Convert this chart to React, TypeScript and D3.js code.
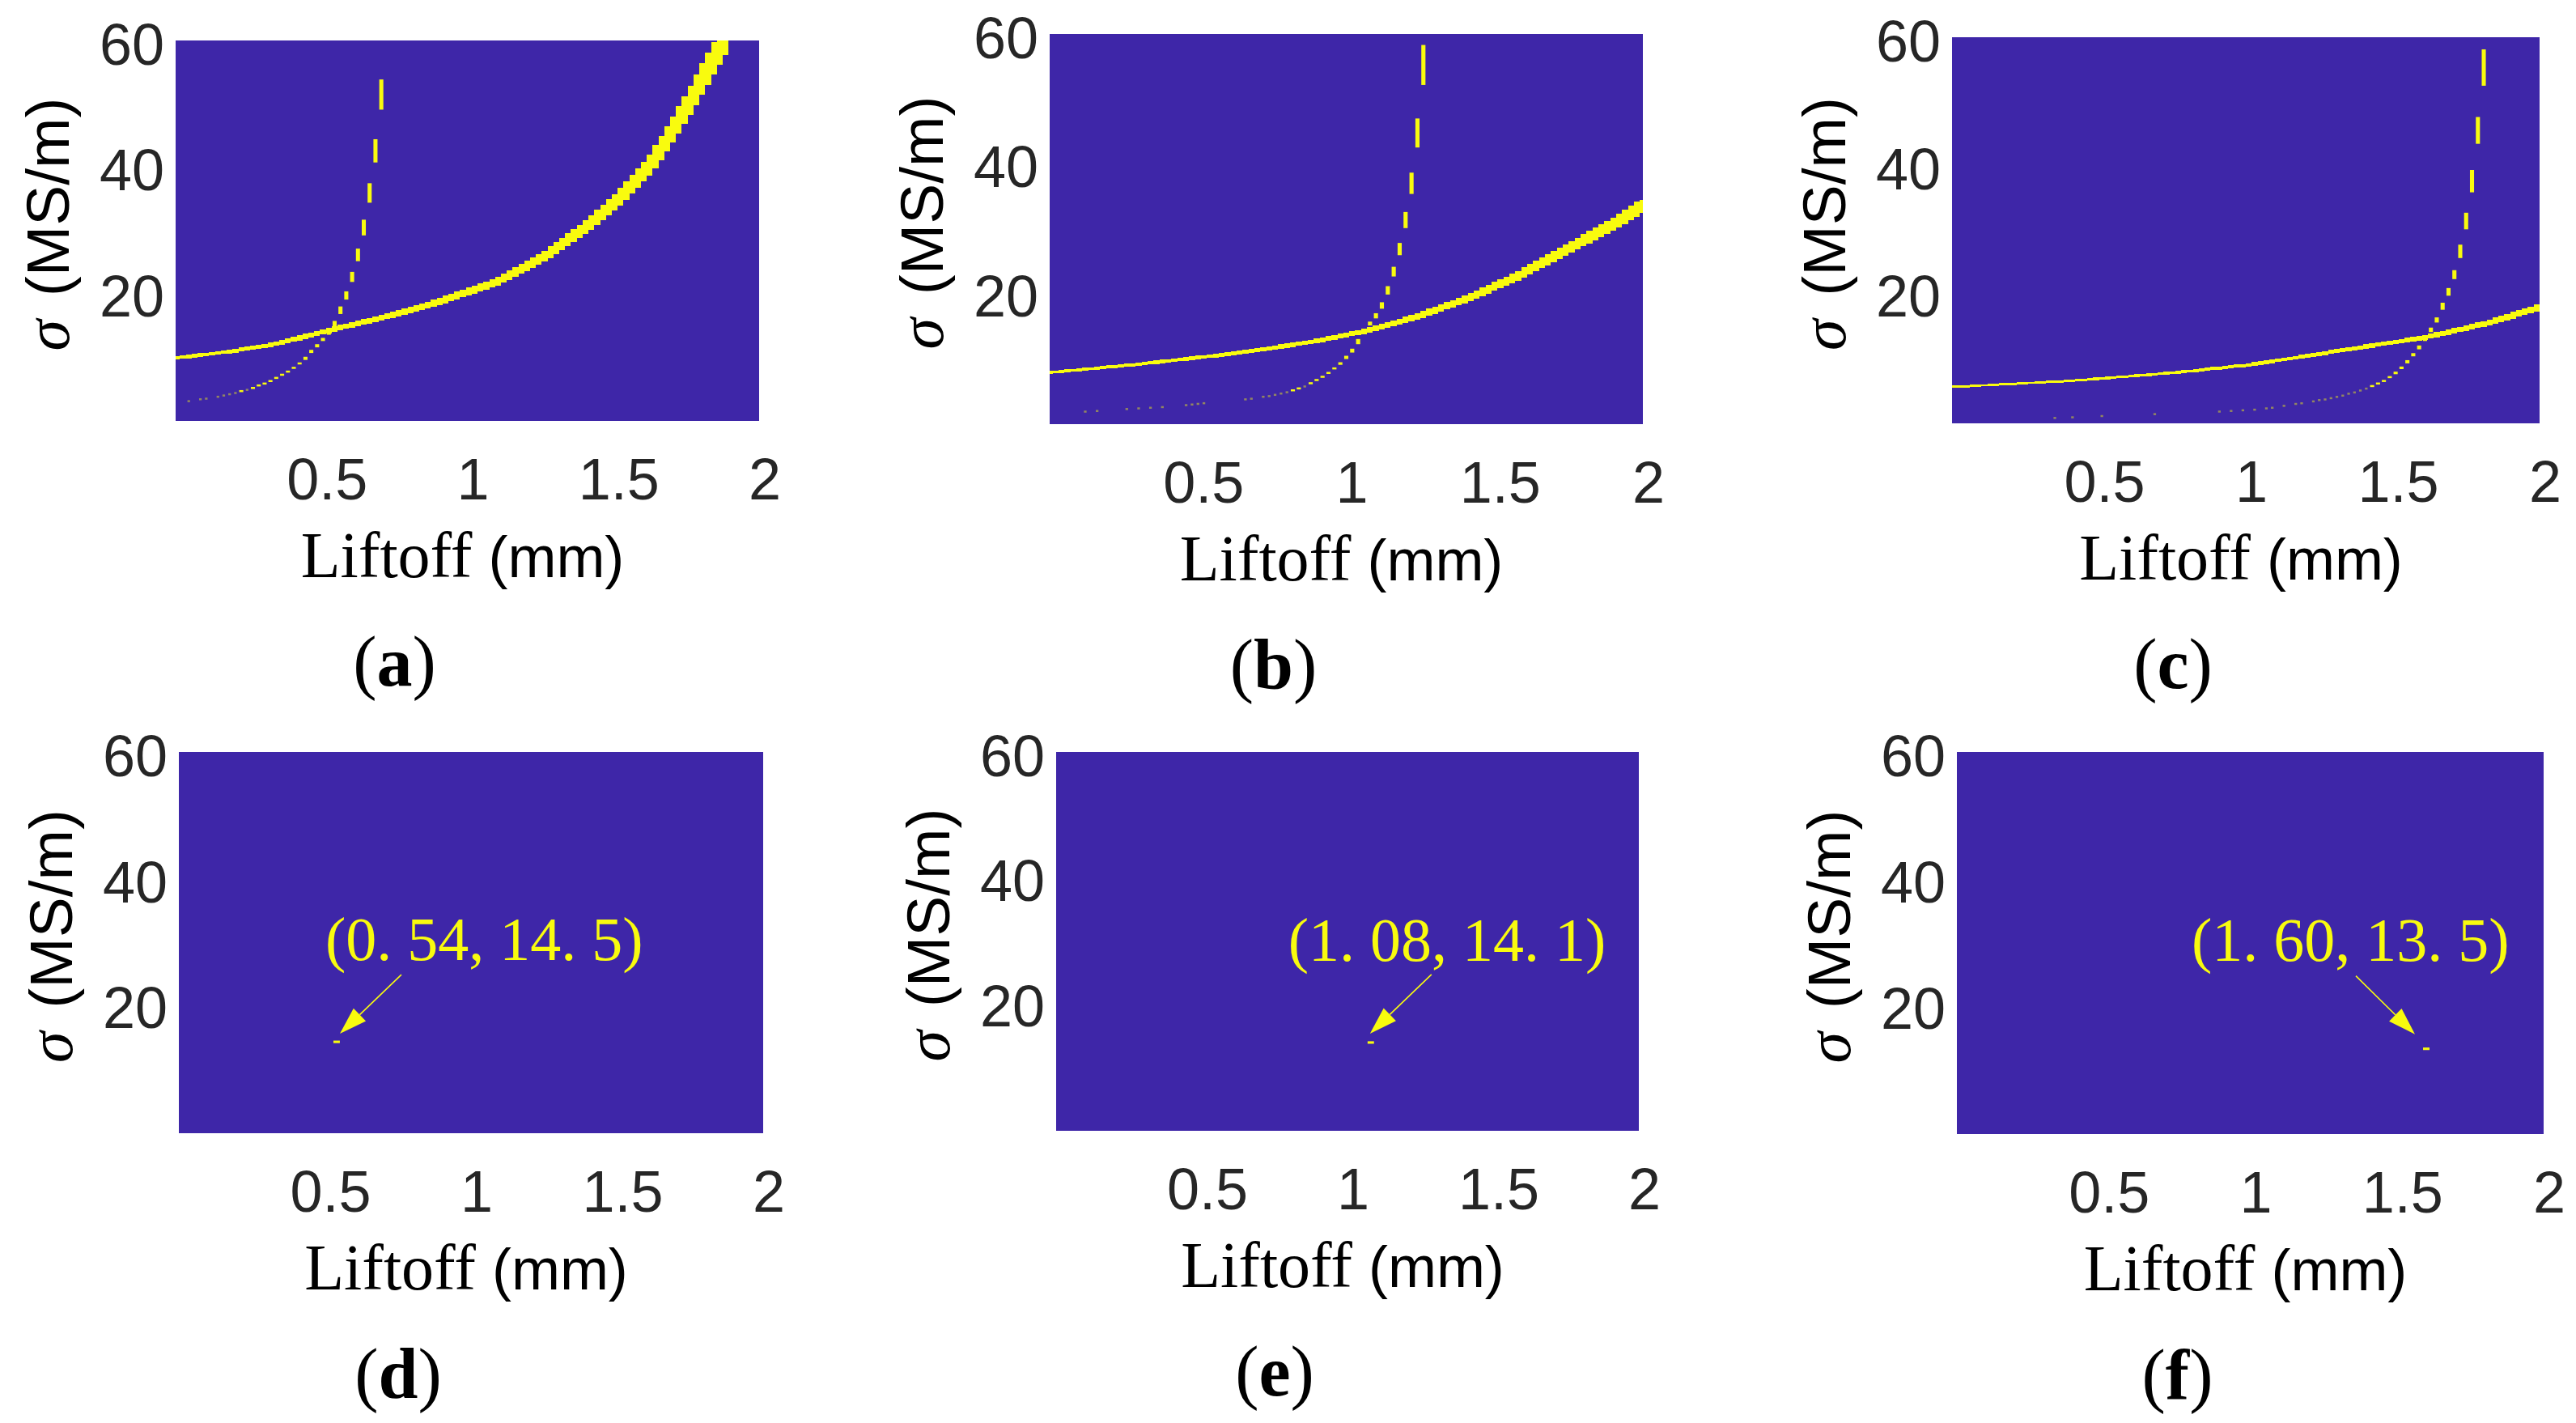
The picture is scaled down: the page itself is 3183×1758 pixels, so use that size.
import React from 'react';
import * as d3 from 'd3';

type Pt = [number, number];

// liftoff (mm), sigma (MS/m) read along each curve of the top row
const solidA: Pt[] = [[0, 10.0], [0.18, 11.0], [0.35, 12.3], [0.535, 14.5], [0.69, 16.2], [0.9, 18.9], [1.1, 22.1], [1.27, 26.3], [1.42, 31.3], [1.52, 35.4], [1.63, 40.9], [1.7, 45.9], [1.77, 51.4], [1.84, 57.3], [1.88, 60.5]];
const dashA: Pt[] = [[0.035, 3.2], [0.14, 3.9], [0.21, 4.6], [0.265, 5.3], [0.32, 6.3], [0.354, 7.1], [0.39, 8.0], [0.416, 8.8], [0.442, 9.8], [0.462, 10.9], [0.487, 12.0], [0.51, 13.2], [0.535, 14.5], [0.55, 15.9], [0.565, 17.6], [0.585, 19.9], [0.605, 22.8], [0.625, 26.3], [0.645, 30.6], [0.665, 36.1], [0.687, 43.4], [0.708, 53.3], [0.712, 55.2]];

const solidB: Pt[] = [[0, 8.0], [0.28, 9.2], [0.63, 11.0], [0.89, 12.8], [1.06, 14.4], [1.235, 16.6], [1.41, 19.5], [1.58, 23.0], [1.76, 27.5], [1.9, 31.0], [2.0, 33.9]];
const dashB: Pt[] = [[0.052, 1.9], [0.139, 2.1], [0.278, 2.5], [0.4, 2.8], [0.557, 3.5], [0.626, 3.7], [0.73, 4.4], [0.8, 5.0], [0.87, 6.1], [0.904, 7.0], [0.939, 7.9], [0.965, 8.8], [0.991, 9.9], [1.017, 11.2], [1.035, 12.4], [1.06, 14.4], [1.096, 16.5], [1.12, 18.3], [1.14, 20.7], [1.16, 23.6], [1.18, 27.0], [1.2, 31.5], [1.22, 37.1], [1.24, 44.8], [1.26, 55.2], [1.262, 58.8]];

const solidC: Pt[] = [[0, 5.7], [0.42, 6.7], [0.77, 8.0], [1.0, 9.1], [1.2, 10.5], [1.39, 11.9], [1.615, 13.5], [1.83, 15.8], [2.0, 18.2]];
const dashC: Pt[] = [[0.327, 0.9], [0.59, 1.4], [0.857, 1.8], [1.05, 2.3], [1.21, 3.4], [1.3, 4.1], [1.387, 5.2], [1.431, 5.9], [1.475, 6.8], [1.511, 7.9], [1.537, 9.0], [1.564, 10.4], [1.59, 11.9], [1.615, 13.5], [1.652, 16.3], [1.691, 20.7], [1.714, 23.8], [1.733, 27.5], [1.753, 32.3], [1.772, 38.5], [1.793, 47.0], [1.814, 57.4], [1.816, 59.7]];

// crossing points marked in the bottom row
const crossLiftoff = [0.54, 1.08, 1.6];
const crossSigma = [14.5, 14.1, 13.5];
const crossLabels = ['(0. 54, 14. 5)', '(1. 08, 14. 1)', '(1. 60, 13. 5)'];

const panelNames = ['a', 'b', 'c', 'd', 'e', 'f'];
const xTicks = [0.5, 1, 1.5, 2];
const yTicks = [20, 40, 60];

const BLUE = '#3e26a8';
const YELLOW = '#f9fb0e';
const INK = '#262626';

// image grid of the maps
const COL = 0.02;
const ROW = 0.1;
const TOL = 0.005;

const boxes = [
    { x0: 217, x1: 938, y0: 50, y1: 520, phase: 0.005 },
    { x0: 1297, x1: 2030, y0: 42, y1: 524, phase: 0 },
    { x0: 2412, x1: 3138, y0: 46, y1: 523, phase: 0.01 },
    { x0: 221, x1: 943, y0: 929, y1: 1400, phase: 0.01 },
    { x0: 1305, x1: 2025, y0: 929, y1: 1397, phase: 0.01 },
    { x0: 2418, x1: 3143, y0: 929, y1: 1401, phase: 0.01 },
];

// pixel offsets from the marked cell: label left/baseline, arrow tail, arrow tip
const callouts = [
    { tx: -14, ty: -101, ax: 80, ay: -83, bx: 4, by: -10 },
    { tx: -102, ty: -101, ax: 75, ay: -84, bx: -1, by: -11 },
    { tx: -290, ty: -109, ax: -87, ay: -90, bx: -14, by: -18 },
];

const curves: [Pt[], Pt[]][] = [[solidA, dashA], [solidB, dashB], [solidC, dashC]];

const thick = d3.scalePow().exponent(1.5).domain([0, 60]).range([0, 3.6]);

function solidCells(pts: Pt[], phase: number) {
    const xs = pts.map(p => p[0]);
    const ys = pts.map(p => p[1]);
    const yAt = d3.scaleLinear().domain(xs).range(ys);
    const lo = xs[0], hi = xs[xs.length - 1];
    const cells: { l: number; r: number; b: number; t: number }[] = [];
    for (let k = -1; k <= 101; k++) {
        const l = phase - COL / 2 + k * COL;
        const r = l + COL;
        if (r < lo || l > hi) continue;
        const ya = yAt(Math.max(l, lo));
        const yb = yAt(Math.min(r, hi));
        const h = thick((ya + yb) / 2) / 2 + 0.1;
        cells.push({ l, r, b: Math.min(ya, yb) - h, t: Math.max(ya, yb) + h });
    }
    return cells;
}

function dashCells(pts: Pt[], phase: number) {
    const xs = pts.map(p => p[0]);
    const ys = pts.map(p => p[1]);
    const xAt = d3.scaleLinear().domain(ys).range(xs);
    const runs: { k: number; j0: number; j1: number }[] = [];
    const jEnd = Math.ceil(ys[ys.length - 1] / ROW);
    for (let j = Math.floor(ys[0] / ROW); j <= jEnd; j++) {
        const yc = (j + 0.5) * ROW;
        if (yc < ys[0] || yc > ys[ys.length - 1]) continue;
        const xc = xAt(yc);
        const k = Math.round((xc - phase) / COL);
        if (Math.abs(xc - (phase + k * COL)) >= TOL) continue;
        const last = runs[runs.length - 1];
        if (last && last.k === k && last.j1 === j - 1) last.j1 = j;
        else runs.push({ k, j0: j, j1: j });
    }
    return runs;
}

function Panel({ idx }: { idx: number }) {
    const p = boxes[idx];
    const name = panelNames[idx];
    const x = d3.scaleLinear().domain([0, 2]).range([p.x0, p.x1]);
    const y = d3.scaleLinear().domain([0, 60.5]).range([p.y1, p.y0]);
    const cx = (p.x0 + p.x1) / 2;
    const cy = (p.y0 + p.y1) / 2;
    const clipId = `clip-${name}`;

    let marks: React.ReactNode = null;
    if (idx < 3) {
        const [solid, dashed] = curves[idx];
        const sc = solidCells(solid, p.phase);
        const dc = dashCells(dashed, p.phase);
        marks = (
            <g clipPath={`url(#${clipId})`}>
                {sc.map((c, i) => (
                    <rect key={`s${i}`} x={x(c.l)} y={y(c.t)} width={x(c.r) - x(c.l)} height={y(c.b) - y(c.t)}
                        fill={YELLOW} shapeRendering="crispEdges" />
                ))}
                {dc.map((r, i) => {
                    const c = p.phase + r.k * COL;
                    const single = r.j1 === r.j0;
                    const w = single ? 0.45 * COL : 0.7 * COL;
                    const top = y((r.j1 + 1) * ROW);
                    const h = Math.max(2.5, y(r.j0 * ROW) - top);
                    return (
                        <rect key={`d${i}`} x={x(c - w / 2)} y={top} width={x(w) - x(0)} height={h}
                            fill={YELLOW} opacity={single ? 0.45 : 1} />
                    );
                })}
            </g>
        );
    } else {
        const m = idx - 3;
        const mx = x(crossLiftoff[m]);
        const my = y(crossSigma[m]);
        const co = callouts[m];
        const tail = [mx + co.ax, my + co.ay];
        const tip = [mx + co.bx, my + co.by];
        const len = Math.hypot(tip[0] - tail[0], tip[1] - tail[1]);
        const ux = (tip[0] - tail[0]) / len, uy = (tip[1] - tail[1]) / len;
        const base = [tip[0] - ux * 34, tip[1] - uy * 34];
        const head = [
            [tip[0], tip[1]],
            [base[0] - uy * 11, base[1] + ux * 11],
            [base[0] + uy * 11, base[1] - ux * 11],
        ];
        marks = (
            <g>
                <rect x={x(crossLiftoff[m] - 0.011)} y={y(crossSigma[m] + 0.2)} width={x(0.022) - x(0)}
                    height={y(0) - y(0.4)} fill={YELLOW} />
                <line x1={tail[0]} y1={tail[1]} x2={base[0]} y2={base[1]} stroke={YELLOW} strokeWidth={1.6} />
                <polygon points={head.map(q => q.join(',')).join(' ')} fill={YELLOW} />
                <text x={mx + co.tx} y={my + co.ty} fill={YELLOW} fontFamily="'Liberation Serif', serif" fontSize={76}>
                    {crossLabels[m]}
                </text>
            </g>
        );
    }

    return (
        <g>
            <defs>
                <clipPath id={clipId}>
                    <rect x={p.x0} y={p.y0} width={p.x1 - p.x0} height={p.y1 - p.y0} />
                </clipPath>
            </defs>
            <rect x={p.x0} y={p.y0} width={p.x1 - p.x0} height={p.y1 - p.y0} fill={BLUE} />
            {marks}
            {yTicks.map(v => (
                <text key={`y${v}`} x={p.x0 - 14} y={y(v)} dy="0.36em" textAnchor="end" fill={INK}
                    fontFamily="'Liberation Sans', Arial, sans-serif" fontSize={72}>{v}</text>
            ))}
            {xTicks.map(v => (
                <text key={`x${v}`} x={x(v) + 7} y={p.y1 + 97} textAnchor="middle" fill={INK}
                    fontFamily="'Liberation Sans', Arial, sans-serif" fontSize={72}>{v}</text>
            ))}
            <text x={cx - 6} y={p.y1 + 193} textAnchor="middle" fill="#000">
                <tspan fontFamily="'Liberation Serif', serif" fontSize={80}>Liftoff </tspan>
                <tspan fontFamily="'Liberation Sans', Arial, sans-serif" fontSize={72}>(mm)</tspan>
            </text>
            <text transform={`translate(${p.x0 - 132},${cy - 8}) rotate(-90)`} textAnchor="middle" fill="#000">
                <tspan fontFamily="'Liberation Serif', serif" fontStyle="italic" fontSize={78}>σ</tspan>
                <tspan dx={8} fontFamily="'Liberation Sans', Arial, sans-serif" fontSize={75}> (MS/m)</tspan>
            </text>
            <text x={cx - 90} y={p.y1 + 327} textAnchor="middle" fill="#000"
                fontFamily="'Liberation Serif', serif" fontSize={88}>
                (<tspan fontWeight="bold">{name}</tspan>)
            </text>
        </g>
    );
}

export default function App() {
    return (
        <svg width={3183} height={1758} viewBox="0 0 3183 1758"
            style={{ position: 'absolute', left: 0, top: 0, display: 'block', background: '#fff' }}>
            <rect width={3183} height={1758} fill="#fff" />
            {panelNames.map((n, i) => <Panel key={n} idx={i} />)}
        </svg>
    );
}
